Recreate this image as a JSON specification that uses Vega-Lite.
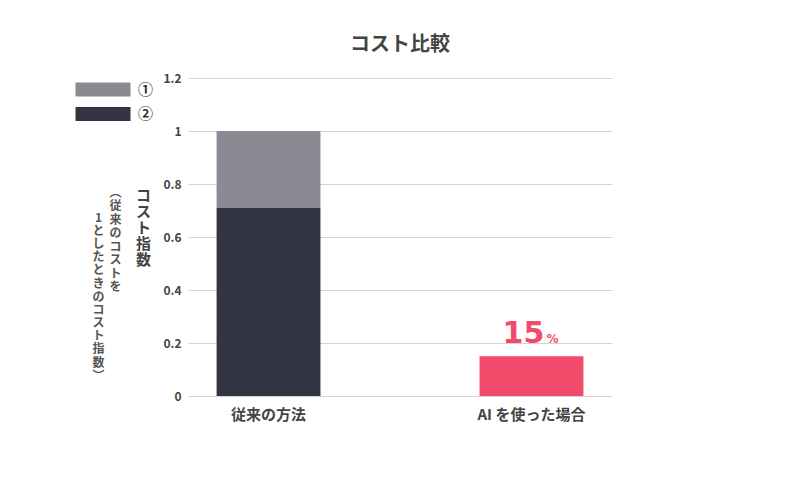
{
  "$schema": "https://vega.github.io/schema/vega-lite/v6.json",
  "width": 424,
  "height": 318,
  "autosize": {"type": "none"},
  "padding": {"left": 188, "top": 78, "right": 188, "bottom": 82},
  "background": "white",
  "title": {"text": "コスト比較", "fontSize": 20, "fontWeight": "bold", "color": "#444444", "font": "Noto Sans CJK JP", "offset": 17, "anchor": "middle"},
  "config": {"font": "Noto Sans CJK JP", "view": {"stroke": null}},
  "data": {"values": [
    {"method": "従来の方法", "part": "①", "value": 0.29},
    {"method": "従来の方法", "part": "②", "value": 0.71},
    {"method": "AI を使った場合", "part": "AI", "value": 0.15}
  ]},
  "layer": [
    {
      "mark": {"type": "bar"},
      "encoding": {
        "x": {"field": "method", "type": "nominal", "sort": ["従来の方法", "AI を使った場合"],
          "scale": {"paddingInner": 0.605, "paddingOuter": 0.1087},
          "axis": {"title": null, "labelAngle": 0, "labelFontSize": 15, "labelFontWeight": "bold", "labelColor": "#444444", "ticks": false, "domain": false, "labelPadding": 11}},
        "y": {"field": "value", "type": "quantitative", "stack": "zero",
          "scale": {"domain": [0, 1.2], "nice": false},
          "axis": {"orient": "left", "values": [0, 0.2, 0.4, 0.6, 0.8, 1, 1.2], "format": "~g", "grid": true, "gridColor": "#d4d4d4", "domain": false, "ticks": false, "labelPadding": 7, "labelFontSize": 12, "labelFontWeight": "bold", "labelColor": "#444444",
            "title": ["コ", "ス", "ト", "指", "数"], "titleAngle": 0, "titleX": -45, "titleY": 110, "titleBaseline": "top", "titleAlign": "center", "titleFontSize": 15, "titleLineHeight": 16, "titleColor": "#444444", "titleFontWeight": "bold"}},
        "color": {"field": "part", "type": "nominal",
          "scale": {"domain": ["①", "②", "AI"], "range": ["#898a92", "#333642", "#f24a6b"]},
          "legend": {"title": null, "orient": "none", "legendX": -92.5, "legendY": 4, "values": ["①", "②"], "symbolType": "M-3.93,-1H3.93V1H-3.93Z", "symbolSize": 196, "symbolStrokeWidth": 0, "symbolOpacity": 1, "labelOffset": 27.5, "labelFontSize": 15, "labelFontWeight": "bold", "labelColor": "#333333", "rowPadding": 8.5, "padding": 0}},
        "order": {"field": "part", "sort": "descending"}
      }
    },
    {
      "transform": [{"filter": "datum.part === 'AI'"}],
      "mark": {"type": "text", "text": "15", "font": "DejaVu Sans", "fontSize": 30, "fontWeight": "bold", "color": "#f24a6b", "baseline": "alphabetic", "dx": -8, "dy": -13},
      "encoding": {
        "x": {"field": "method", "type": "nominal", "sort": ["従来の方法", "AI を使った場合"]},
        "y": {"field": "value", "type": "quantitative", "scale": {"domain": [0, 1.2], "nice": false},
          "axis": {"orient": "left", "grid": false, "labels": false, "ticks": false, "domain": false,
            "title": ["︵", "従", "来", "の", "コ", "ス", "ト", "を"], "titleAngle": 0, "titleX": -73, "titleY": 109, "titleBaseline": "top", "titleAlign": "center", "titleFontSize": 12, "titleLineHeight": 13.5, "titleColor": "#555555", "titleFontWeight": "bold"}}
      }
    },
    {
      "transform": [{"filter": "datum.part === 'AI'"}],
      "mark": {"type": "text", "text": "%", "font": "DejaVu Sans", "fontSize": 12, "fontWeight": "bold", "color": "#f24a6b", "baseline": "alphabetic", "dx": 21, "dy": -13},
      "encoding": {
        "x": {"field": "method", "type": "nominal", "sort": ["従来の方法", "AI を使った場合"]},
        "y": {"field": "value", "type": "quantitative", "scale": {"domain": [0, 1.2], "nice": false},
          "axis": {"orient": "left", "grid": false, "labels": false, "ticks": false, "domain": false,
            "title": ["1", "と", "し", "た", "と", "き", "の", "コ", "ス", "ト", "指", "数", "︶"], "titleAngle": 0, "titleX": -90, "titleY": 134, "titleBaseline": "top", "titleAlign": "center", "titleFontSize": 12, "titleLineHeight": 13.2, "titleColor": "#555555", "titleFontWeight": "bold"}}
      }
    }
  ],
  "resolve": {"axis": {"y": "independent"}}
}
